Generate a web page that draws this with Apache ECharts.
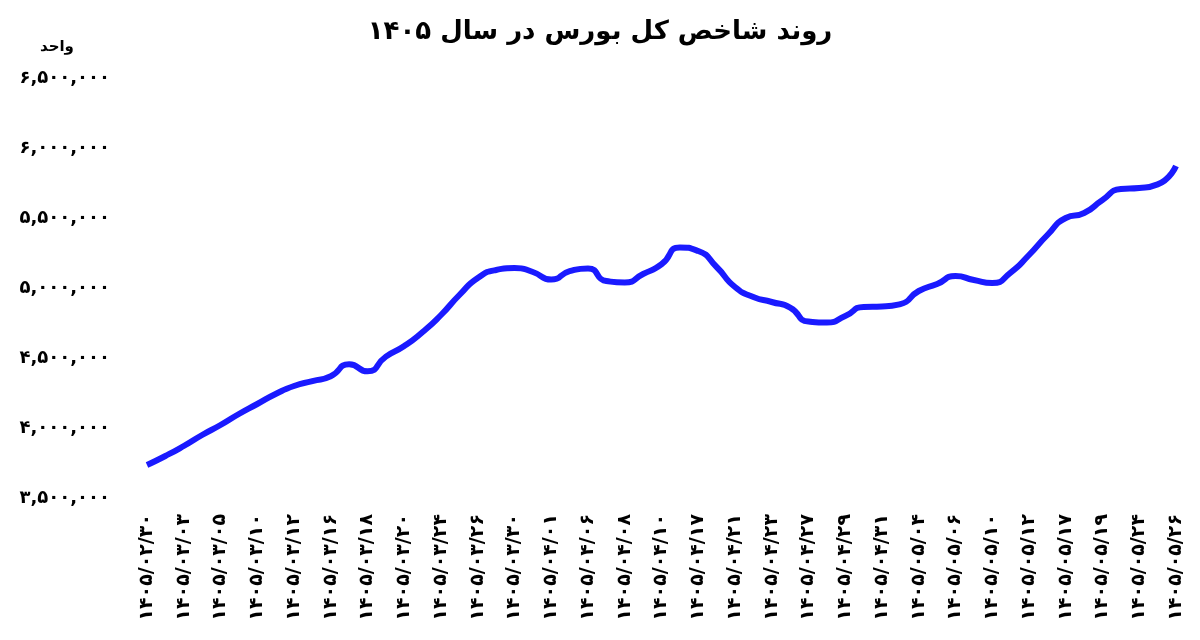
<!DOCTYPE html>
<html><head><meta charset="utf-8">
<script src="https://cdn.jsdelivr.net/npm/echarts@6/dist/echarts.min.js"></script>
<style>html,body{margin:0;background:#fff}#c{width:1200px;height:640px}</style>
</head><body><div id="c"></div>
<script>
const dates = ["02/30","03/01","03/03","03/04","03/05","03/07","03/10","03/11","03/12","03/13","03/16","03/17","03/18","03/19","03/20","03/23","03/24","03/25","03/26","03/27","03/30","03/31","04/01","04/03","04/06","04/07","04/08","04/09","04/10","04/14","04/17","04/18","04/21","04/22","04/23","04/24","04/27","04/28","04/29","04/30","04/31","05/01","05/04","05/05","05/06","05/07","05/10","05/11","05/12","05/14","05/17","05/18","05/19","05/21","05/24","05/25","05/26"];
const values = [3735700,3800000,3871400,3950000,4021400,4100000,4171400,4242900,4300000,4335000,4370000,4455000,4405000,4510000,4585700,4685700,4807100,4950000,5071400,5128600,5142900,5114300,5060000,5120000,5140000,5050000,5040000,5100000,5170000,5290000,5264300,5150000,5007100,4935700,4900000,4860000,4760000,4752900,4800000,4865000,4868000,4885000,4978600,5028600,5085000,5057100,5035000,5110000,5235700,5378600,5500000,5535700,5628600,5707100,5714300,5740000,5871400];
const title = "روند شاخص کل بورس در سال ۱۴۰۵";
const unit = "واحد";
const fa = s => String(s).replace(/\d/g, d => "۰۱۲۳۴۵۶۷۸۹"[d]);
const categories = dates.map(d => fa("1405/" + d));
const chart = echarts.init(document.getElementById('c'));
chart.setOption({
  animation:false,
  title:{text:title,left:'center',top:14,textStyle:{fontFamily:'DejaVu Sans',fontWeight:'bold',fontSize:26,color:'#000'}},
  graphic:[{type:'text',left:40,top:40,style:{text:unit,font:'bold 15px DejaVu Sans',fill:'#000'}}],
  grid:{left:147,right:24,top:78,bottom:142},
  xAxis:{type:'category',data:categories,boundaryGap:false,
    axisLine:{show:false},axisTick:{show:false},
    axisLabel:{interval:1,rotate:90,margin:16,fontFamily:'DejaVu Sans',fontWeight:'bold',fontSize:19,color:'#000'}},
  yAxis:{type:'value',min:3500000,max:6500000,interval:500000,splitLine:{show:false},
    axisLine:{show:false},axisTick:{show:false},
    axisLabel:{margin:37,fontFamily:'DejaVu Sans',fontWeight:'bold',fontSize:18,color:'#000',
      formatter:v=>fa(v.toLocaleString('en-US'))}},
  series:[{type:'line',data:values,smooth:0.6,symbol:'none',lineStyle:{color:'#1a1aff',width:6}}]
});
</script></body></html>
